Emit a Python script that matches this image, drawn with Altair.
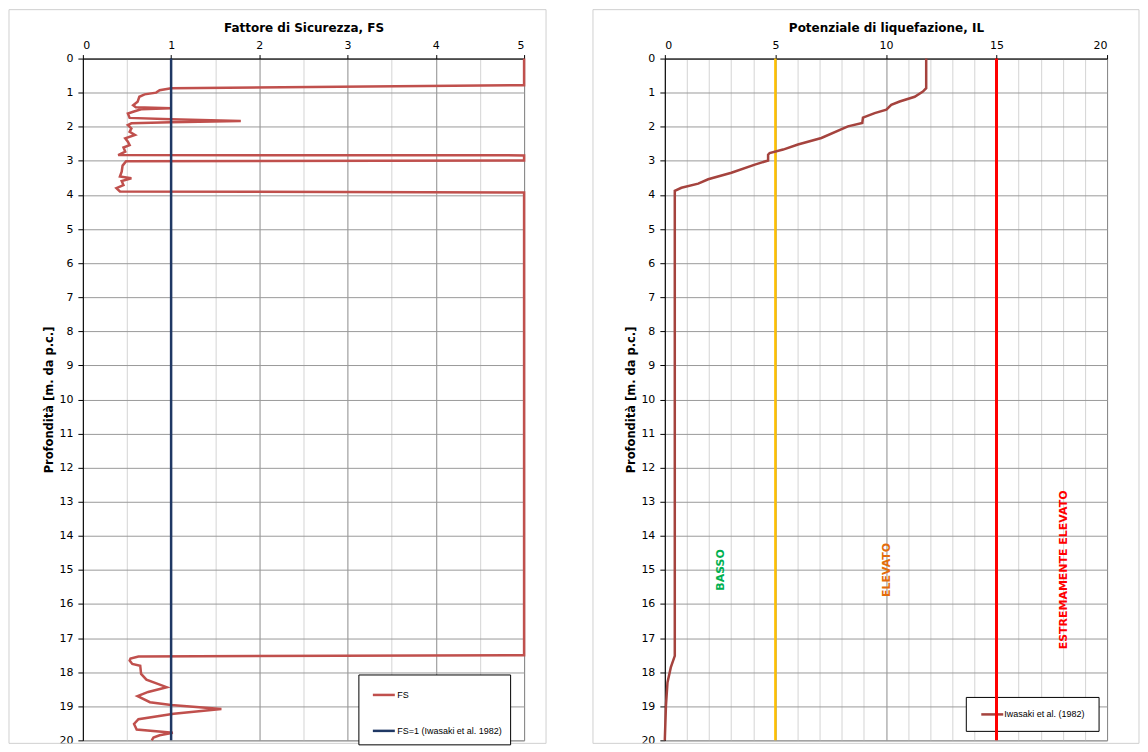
import altair as alt
import pandas as pd

# ---- data: Fattore di Sicurezza (FS) vs depth ----
fs_depth = [0.00, 0.78, 0.87, 0.93, 1.00, 1.05, 1.12, 1.27, 1.37, 1.43, 1.46, 1.49,
            1.56, 1.61, 1.74, 1.78, 1.83, 1.87, 1.90, 1.95, 2.05, 2.15, 2.24, 2.34,
            2.44, 2.54, 2.61, 2.73, 2.83, 2.84, 2.99, 3.01, 3.14, 3.32, 3.46, 3.51,
            3.59, 3.71, 3.80, 3.90, 3.93, 17.50, 17.54, 17.60, 17.66, 17.76, 17.81,
            18.05, 18.22, 18.44, 18.58, 18.70, 18.88, 18.96, 19.08, 19.22, 19.38,
            19.52, 19.68, 19.78, 19.85, 19.92, 20.00]
fs_value = [5.00, 5.00, 1.00, 0.87, 0.83, 0.70, 0.64, 0.62, 0.57, 0.60, 1.00, 0.66,
            0.57, 0.51, 0.53, 1.00, 1.79, 1.00, 0.55, 0.51, 0.55, 0.53, 0.59, 0.48,
            0.51, 0.53, 0.46, 0.48, 0.40, 5.00, 5.00, 0.49, 0.45, 0.44, 0.42, 0.55,
            0.44, 0.46, 0.38, 0.42, 5.00, 5.00, 0.63, 0.54, 0.53, 0.56, 0.65,
            0.66, 0.72, 0.95, 0.74, 0.62, 0.76, 1.00, 1.57, 1.03, 0.63,
            0.58, 0.61, 1.02, 0.87, 0.80, 0.78]
fs_ref = [1.0]

# ---- data: Potenziale di liquefazione (IL) vs depth ----
il_depth = [0.00, 0.87, 0.97, 1.12, 1.26, 1.36, 1.50, 1.60, 1.73, 1.89, 1.99, 2.33,
            2.52, 2.67, 2.77, 2.82, 2.99, 3.11, 3.35, 3.54, 3.67, 3.79, 3.88, 17.52,
            17.86, 18.30, 18.98, 19.96, 20.00]
il_value = [11.82, 11.82, 11.67, 11.30, 10.62, 10.24, 10.02, 9.49, 8.96, 8.93, 8.28, 7.08,
            6.02, 5.35, 4.74, 4.67, 4.67, 4.07, 3.01, 1.96, 1.51, 0.75, 0.45, 0.45,
            0.27, 0.12, 0.05, 0.00, 0.00]
il_thresholds = [5, 15]
threshold_colors = ["#FFC000", "#FF0000"]

zone_labels = ["BASSO", "ELEVATO", "ESTREMAMENTE ELEVATO"]
zone_x = [2.56, 10.06, 18.05]
zone_y = [15.0, 15.0, 15.0]
zone_colors = ["#00B050", "#E46C0A", "#FF0000"]

FS_NAME = "FS"
FS1_NAME = "FS=1 (Iwasaki et al. 1982)"
IL_NAME = "Iwasaki et al. (1982)"
IL_COLOR = "#A5433E"

fs_df = pd.DataFrame({"depth": fs_depth, "fs": fs_value, "idx": range(len(fs_depth)),
                      "series": FS_NAME})
fs_ref_df = pd.DataFrame({"fs": fs_ref, "series": FS1_NAME})
il_df = pd.DataFrame({"depth": il_depth, "il": il_value, "idx": range(len(il_depth))})
zone_df = pd.DataFrame({"label": zone_labels, "il": zone_x, "depth": zone_y, "c": zone_colors})

W1, W2, H = 442, 443, 683
FONT = "DejaVu Sans"
GRID_MAJOR = "#8c8c8c"
GRID_MINOR = "#d4d4d4"

one = pd.DataFrame({"a": [0]})


def border(w, left, right):
    return alt.Chart(one).mark_rect(fill=None, stroke="#d0d0d0", strokeWidth=1, clip=False).encode(
        x=alt.value(-left), x2=alt.value(w + right), y=alt.value(-49), y2=alt.value(H + 3))


y_axis = alt.Axis(values=list(range(21)), title="Profondità [m. da p.c.]", gridColor="#9a9a9a",
                  tickSize=5, tickColor="black", labelPadding=5, titlePadding=4,
                  domainColor="black", labelFont=FONT, labelFontSize=11, labelColor="black",
                  labelOverlap=False,
                  titleFont=FONT, titleFontSize=11.5, titleFontWeight="bold", titleColor="black")
y_scale = alt.Scale(domain=[0, 20], reverse=True, nice=False, zero=False)
y_enc = alt.Y("depth:Q", scale=y_scale, axis=y_axis)


def x_axis(step, major, title):
    n = int(round((20 if major == 5 else 5) / step))
    return alt.Axis(orient="top", values=[round(i * step, 2) for i in range(n + 1)],
                    labelExpr=f"datum.value % {major} === 0 ? datum.value : ''",
                    labelOverlap=False,
                    gridColor={"condition": {"test": f"datum.value % {major} === 0",
                                             "value": GRID_MAJOR}, "value": GRID_MINOR},
                    tickOpacity={"condition": {"test": f"datum.value % {major} === 0",
                                               "value": 1}, "value": 0},
                    tickSize=4, tickColor="black", domainColor="black", labelPadding=4,
                    labelFont=FONT, labelFontSize=11, labelColor="black",
                    title=title, titleFont=FONT, titleFontSize=12, titleFontWeight="bold",
                    titleColor="black", titlePadding=5)


# ---- left panel ----
x1_axis = x_axis(0.5, 1, "Fattore di Sicurezza, FS")
x1_scale = alt.Scale(domain=[0, 5], nice=False, zero=False)
color1 = alt.Color("series:N",
                   scale=alt.Scale(domain=[FS_NAME, FS1_NAME], range=["#C0504D", "#1F3864"]),
                   legend=alt.Legend(title=None, orient="none", legendX=276, legendY=617,
                                     strokeColor="black", fillColor="white", padding=8,
                                     symbolOffset=5, symbolType="stroke", symbolSize=484,
                                     symbolStrokeWidth=2.5, rowPadding=18, labelOffset=1,
                                     labelFont="Liberation Sans", labelFontSize=9,
                                     labelColor="black", cornerRadius=0))

fs_line = alt.Chart(fs_df).mark_line(strokeWidth=2.5).encode(
    x=alt.X("fs:Q", scale=x1_scale, axis=x1_axis),
    y=y_enc,
    order="idx:Q",
    color=color1,
)
fs_rule = alt.Chart(fs_ref_df).mark_rule(strokeWidth=2.5).encode(
    x=alt.X("fs:Q", scale=x1_scale, axis=x1_axis),
    color=color1,
)
left = alt.layer(border(W1, 74, 22), fs_line, fs_rule).properties(width=W1, height=H)

# ---- right panel ----
x2_axis = x_axis(1, 5, "Potenziale di liquefazione, IL")
x2_scale = alt.Scale(domain=[0, 20], nice=False, zero=False)


def threshold(v, c, w):
    return alt.Chart(pd.DataFrame({"il": [v]})).mark_rule(strokeWidth=w, color=c).encode(
        x=alt.X("il:Q", scale=x2_scale, axis=x2_axis))


gold_rule = threshold(il_thresholds[0], threshold_colors[0], 2.5)
red_rule = threshold(il_thresholds[1], threshold_colors[1], 3)

il_line = alt.Chart(il_df).mark_line(strokeWidth=2.5, color=IL_COLOR).encode(
    x=alt.X("il:Q", scale=x2_scale, axis=x2_axis),
    y=y_enc,
    order="idx:Q",
)
zone_text = alt.Chart(zone_df).mark_text(angle=270, align="center", baseline="middle",
                                         font=FONT, fontSize=11, fontWeight="bold").encode(
    x=alt.X("il:Q", scale=x2_scale, axis=x2_axis),
    y=y_enc,
    text="label:N",
    fill=alt.Fill("c:N", scale=None),
)

# legend box of the right panel (drawn as marks so the red threshold line passes over it)
leg_box = alt.Chart(one).mark_rect(fill="white", stroke="black", strokeWidth=1).encode(
    x=alt.value(302), x2=alt.value(435), y=alt.value(640), y2=alt.value(674))
leg_line = alt.Chart(one).mark_rule(color=IL_COLOR, strokeWidth=2.5).encode(
    x=alt.value(317), x2=alt.value(339), y=alt.value(657))
leg_text = alt.Chart(pd.DataFrame({"t": [IL_NAME]})).mark_text(
    align="left", baseline="middle", font="Liberation Sans", fontSize=9, color="black").encode(
    x=alt.value(340), y=alt.value(657), text="t:N")

right = alt.layer(border(W2, 72, 32), gold_rule, il_line, zone_text,
                  leg_box, leg_line, leg_text, red_rule).properties(width=W2, height=H)

chart = alt.hconcat(left, right, spacing=45).resolve_scale(color="independent").properties(
    padding=0, background="white"
).configure_view(stroke="#8c8c8c", strokeWidth=1)

chart.save("out.html", embed_options={"renderer": "svg", "actions": False})
